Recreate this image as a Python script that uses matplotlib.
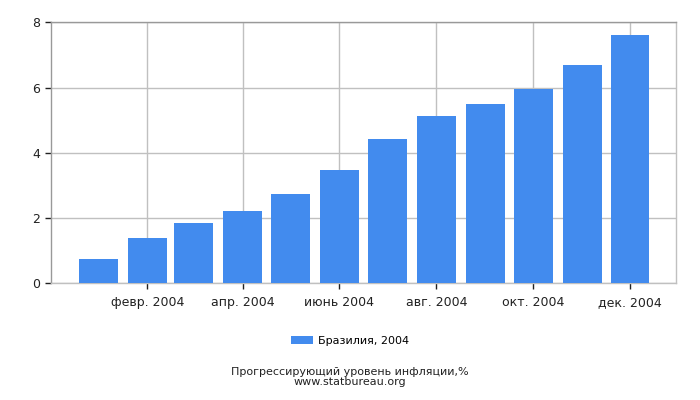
import datetime as dt
import matplotlib
matplotlib.use('Agg')
import matplotlib.pyplot as plt
import matplotlib.dates as mdates

# --- Datos ---
months = [dt.date(2004, m, 1) for m in range(1, 13)]
inflation = [0.76, 1.38, 1.85, 2.22, 2.74, 3.48, 4.42, 5.13, 5.51, 5.96, 6.70, 7.60]
tick_dates = [dt.date(2004, m, 1) for m in (2, 4, 6, 8, 10, 12)]
tick_labels = ["февр. 2004", "апр. 2004", "июнь 2004", "авг. 2004", "окт. 2004", "дек. 2004"]
series_label = "Бразилия, 2004"
title_text = "Прогрессирующий уровень инфляции,%\nwww.statbureau.org"

BAR_COLOR = "#428BEE"
GRID_COLOR = "#C0C0C0"

plt.rcParams['font.family'] = ['DejaVu Sans']
plt.rcParams['font.size'] = 9

fig = plt.figure(figsize=(7, 4), dpi=100)
ax = fig.add_axes([50.5 / 700, 1 - 283.3 / 400, (676 - 50.5) / 700, (283.3 - 22.3) / 400])

ax.bar(months, inflation, width=24.5, color=BAR_COLOR, zorder=3, label=series_label)

ax.set_xlim(dt.date(2003, 12, 2), dt.date(2004, 12, 30))
ax.set_ylim(0, 8)
ax.set_yticks([0, 2, 4, 6, 8])
ax.set_xticks([mdates.date2num(d) for d in tick_dates])
ax.set_xticklabels(tick_labels)

ax.grid(True, color=GRID_COLOR, linewidth=1, zorder=0)
for side in ("top", "right", "left", "bottom"):
    ax.spines[side].set_color(GRID_COLOR)
    ax.spines[side].set_linewidth(1)
ax.spines["left"].set_color("#999999")
ax.spines["top"].set_color("#999999")
ax.tick_params(axis="both", length=4, width=1, color="#222222", labelcolor="#222222")
ax.tick_params(axis="x", pad=5)

fig.legend(loc="center", bbox_to_anchor=(0.5, 1 - 341 / 400), frameon=False,
           handlelength=2.0, handleheight=0.7, handletextpad=0.4, fontsize=8)

fig.text(0.5, 1 - 377 / 400, title_text, ha="center", va="center",
         fontsize=8, color="#222222", linespacing=1.0)

fig.savefig("out.png", dpi=100)
plt.close()
